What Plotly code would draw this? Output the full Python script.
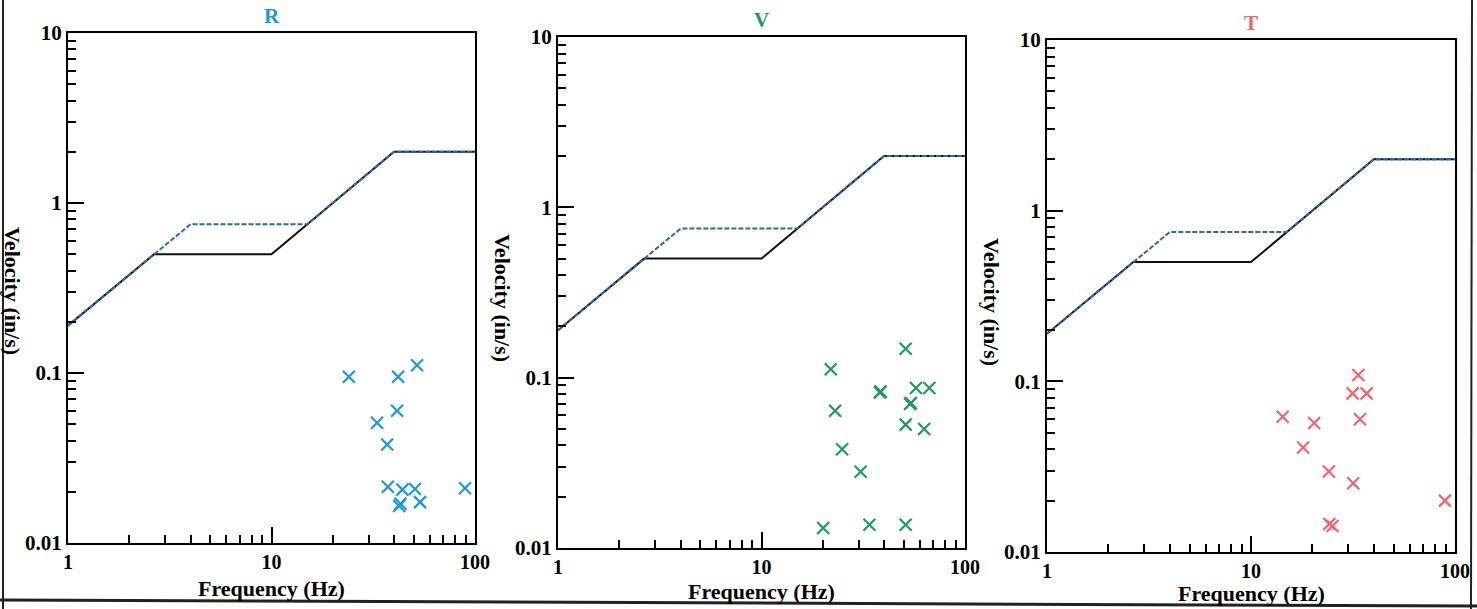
import plotly.graph_objects as go

W, H = 1477, 609

# Criteria curves (USBM RI 8507 style)
crit_solid_f = [1, 2.65, 10, 40, 100]
crit_solid_v = [0.19, 0.5, 0.5, 2.0, 2.0]
crit_dash_f = [1, 4, 15, 40, 100]
crit_dash_v = [0.19, 0.75, 0.75, 2.0, 2.0]

# R component
r_freq = [24.0, 41.9, 51.9, 41.4, 33.0, 37.0, 37.3, 44.0, 50.7, 89.3, 42.4, 43.0, 53.7]
r_vel = [0.095, 0.095, 0.111, 0.060, 0.051, 0.038, 0.0214, 0.0206, 0.0208, 0.021, 0.0165, 0.017, 0.0174]

# V component
v_freq = [51.1, 21.9, 38.2, 38.5, 57.4, 66.8, 53.7, 54.2, 23.0, 51.1, 63.0, 24.9, 30.7, 20.1, 33.9, 51.1]
v_vel = [0.148, 0.112, 0.082, 0.083, 0.087, 0.087, 0.070, 0.071, 0.064, 0.053, 0.050, 0.038, 0.028, 0.0131, 0.0137, 0.0137]

# T component
t_freq = [33.6, 31.5, 36.9, 34.2, 14.3, 20.4, 18.0, 24.1, 31.7, 89.3, 24.2, 25.1]
t_vel = [0.109, 0.085, 0.085, 0.060, 0.062, 0.057, 0.041, 0.0296, 0.0253, 0.020, 0.0146, 0.0142]

titles = ["R", "V", "T"]
colors = ["#1a9ad8", "#1f9b5c", "#f2636d"]
series = [(r_freq, r_vel), (v_freq, v_vel), (t_freq, t_vel)]

x_ticks = [1, 10, 100]
x_labels = ["1", "10", "100"]
x_minor = [2, 3, 4, 5, 6, 7, 8, 9, 20, 30, 40, 50, 60, 70, 80, 90]
y_ticks = [0.01, 0.1, 1, 10]
y_labels = ["0.01", "0.1", "1", "10"]
y_minor = [0.02, 0.03, 0.04, 0.05, 0.06, 0.07, 0.08, 0.09,
           0.2, 0.3, 0.4, 0.5, 0.6, 0.7, 0.8, 0.9,
           2, 3, 4, 5, 6, 7, 8, 9]

# panel pixel boxes: (left, right, top, bottom)
boxes = [(68, 475, 33, 543), (558, 965, 37, 548), (1047, 1455, 40, 552)]
ylabel_centers = [291, 298, 302]
xlabel_centers = [588, 591, 593]

FONT = "Liberation Serif"

fig = go.Figure()
for i, ((fx, vy), col, ttl, box) in enumerate(zip(series, colors, titles, boxes)):
    xa = "x" if i == 0 else f"x{i+1}"
    ya = "y" if i == 0 else f"y{i+1}"
    fig.add_trace(go.Scatter(x=crit_solid_f, y=crit_solid_v, mode="lines",
                             line=dict(color="#111111", width=2),
                             xaxis=xa, yaxis=ya, showlegend=False, hoverinfo="skip"))
    fig.add_trace(go.Scatter(x=crit_dash_f, y=crit_dash_v, mode="lines",
                             line=dict(color="#2a68b8", width=2, dash="5px,2px"),
                             xaxis=xa, yaxis=ya, showlegend=False, hoverinfo="skip"))
    fig.add_trace(go.Scatter(x=fx, y=vy, mode="markers",
                             marker=dict(symbol="x-thin", size=12, line=dict(color=col, width=2.2)),
                             xaxis=xa, yaxis=ya, showlegend=False, name=ttl))
    l, r, t, b = box
    xdom = [l / W, r / W]
    ydom = [1 - b / H, 1 - t / H]
    axx = dict(type="log", range=[0, 2], domain=xdom, anchor=ya, automargin=False,
               showline=True, linecolor="black", linewidth=2, mirror=True,
               showgrid=False, zeroline=False,
               tickmode="array", tickvals=x_ticks, ticktext=x_labels,
               ticks="inside", ticklen=16, tickwidth=2, tickcolor="black",
               minor=dict(tickmode="array", tickvals=x_minor, ticks="inside",
                          ticklen=8, tickwidth=2, tickcolor="black", showgrid=False),
               tickfont=dict(family=FONT, size=20, color="black", weight="bold"))
    axy = dict(type="log", range=[-2, 1], domain=ydom, anchor=xa, automargin=False,
               showline=True, linecolor="black", linewidth=2, mirror=True,
               showgrid=False, zeroline=False,
               tickmode="array", tickvals=y_ticks, ticktext=y_labels,
               ticks="inside", ticklen=16, tickwidth=2, tickcolor="black",
               minor=dict(tickmode="array", tickvals=y_minor, ticks="inside",
                          ticklen=8, tickwidth=2, tickcolor="black", showgrid=False),
               tickfont=dict(family=FONT, size=21, color="black", weight="bold"))
    fig.update_layout(**{("xaxis" if i == 0 else f"xaxis{i+1}"): axx,
                         ("yaxis" if i == 0 else f"yaxis{i+1}"): axy})
    cx = (l + r) / 2
    fig.add_annotation(x=cx / W, y=1 - (t - 17) / H, xref="paper", yref="paper",
                       xanchor="center", yanchor="middle",
                       text=f"<b>{ttl}</b>", showarrow=False,
                       font=dict(family=FONT, size=21, color=col))
    fig.add_annotation(x=cx / W, y=1 - xlabel_centers[i] / H, xref="paper", yref="paper",
                       xanchor="center", yanchor="middle",
                       text="<b>Frequency (Hz)</b>", showarrow=False,
                       font=dict(family=FONT, size=22, color="black"))
    fig.add_annotation(x=(l - 55) / W, y=1 - ylabel_centers[i] / H, xref="paper", yref="paper",
                       xanchor="center", yanchor="middle",
                       text="<b>Velocity (in/s)</b>", showarrow=False, textangle=90,
                       font=dict(family=FONT, size=22, color="black"))

# page frame lines from the scanned document (slightly tilted scan)
fig.add_shape(type="line", xref="paper", yref="paper", x0=3 / W, x1=3 / W, y0=0, y1=1,
              line=dict(color="#222222", width=2))
fig.add_shape(type="line", xref="paper", yref="paper", x0=1471 / W, x1=1472 / W, y0=0, y1=1,
              line=dict(color="#222222", width=2))
fig.add_shape(type="line", xref="paper", yref="paper", x0=0, x1=1, y0=1 - 600 / H, y1=1 - 606 / H,
              line=dict(color="#222222", width=3))

fig.update_layout(width=W, height=H, margin=dict(l=0, r=0, t=0, b=0, autoexpand=False),
                  paper_bgcolor="white", plot_bgcolor="white")

fig.write_html("out.html", config={"displayModeBar": False},
               post_script="document.body.style.margin='0';document.body.style.overflow='hidden';")
